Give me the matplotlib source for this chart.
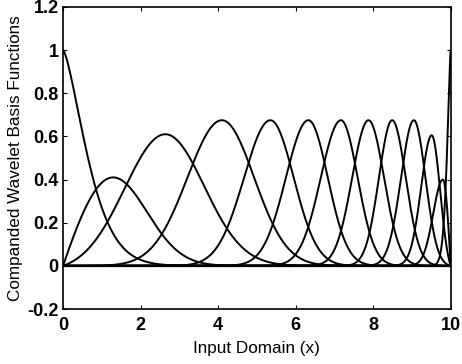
import numpy as np
import matplotlib
matplotlib.use('Agg')
import matplotlib.pyplot as plt
from matplotlib.ticker import FormatStrFormatter

# Parametros de cada funcion base
centers = [0.0, 1.29, 2.64, 4.10, 5.35, 6.33, 7.17, 7.88, 8.49, 9.05, 9.51, 9.80, 10.0]
heights = [1.0, 0.41, 0.61, 0.675, 0.675, 0.675, 0.675, 0.675, 0.675, 0.675, 0.605, 0.40, 1.0]
left_w = [0.0, 1.5, 1.05, 0.89, 0.68, 0.58, 0.52, 0.42, 0.34, 0.33, 0.27, 0.25, 0.08]
right_w = [0.515, 0.88, 1.0, 0.83, 0.60, 0.50, 0.43, 0.40, 0.35, 0.30, 0.22, 0.23, 0.0]
shape_p = [1.45, 2, 2, 2, 2, 2, 2, 2, 2, 2, 2, 2, 1.45]

x_min, x_max = 0.0, 10.0
x_ticks = [0, 2, 4, 6, 8, 10]
y_ticks = [-0.2, 0, 0.2, 0.4, 0.6, 0.8, 1.0, 1.2]

plt.rcParams['font.family'] = ['Liberation Sans', 'DejaVu Sans']

x = np.linspace(x_min, x_max, 3001)


def basis(c, h, wl, wr, p):
    y = np.zeros_like(x)
    left = x < c
    right = ~left
    if wl > 0:
        g = np.exp(-0.5 * np.abs((x[left] - c) / wl) ** p)
        g0 = np.exp(-0.5 * abs((x_min - c) / wl) ** p)
        y[left] = (g - g0) / (1 - g0)
    if wr > 0:
        g = np.exp(-0.5 * np.abs((x[right] - c) / wr) ** p)
        g1 = np.exp(-0.5 * abs((x_max - c) / wr) ** p)
        y[right] = (g - g1) / (1 - g1)
    else:
        y[right] = 1.0
    return h * y


fig = plt.figure(figsize=(4.62, 3.64), dpi=100)
ax = fig.add_axes([0.1364, 0.151, 0.8391, 0.830])

for c, h, wl, wr, p in zip(centers, heights, left_w, right_w, shape_p):
    ax.plot(x, basis(c, h, wl, wr, p), color='black', lw=1.4)

ax.axhline(0, color='black', lw=1.6)

ax.set_xlim(x_min, x_max)
ax.set_ylim(-0.2, 1.2)
ax.set_xticks(x_ticks)
ax.set_yticks(y_ticks)
ax.yaxis.set_major_formatter(FormatStrFormatter('%g'))
ax.tick_params(direction='in', top=True, right=True, length=3, width=0.8,
               labelsize=13, pad=3)
ax.tick_params(axis='x', pad=6)
for lab in ax.get_xticklabels() + ax.get_yticklabels():
    lab.set_fontweight('bold')
for s in ax.spines.values():
    s.set_linewidth(1.2)

ax.set_xlabel('Input Domain (x)', fontsize=12.3, labelpad=5)
ax.set_ylabel('Companded Wavelet Basis Functions', fontsize=12.3, labelpad=3)

fig.savefig('out.png', dpi=100)
